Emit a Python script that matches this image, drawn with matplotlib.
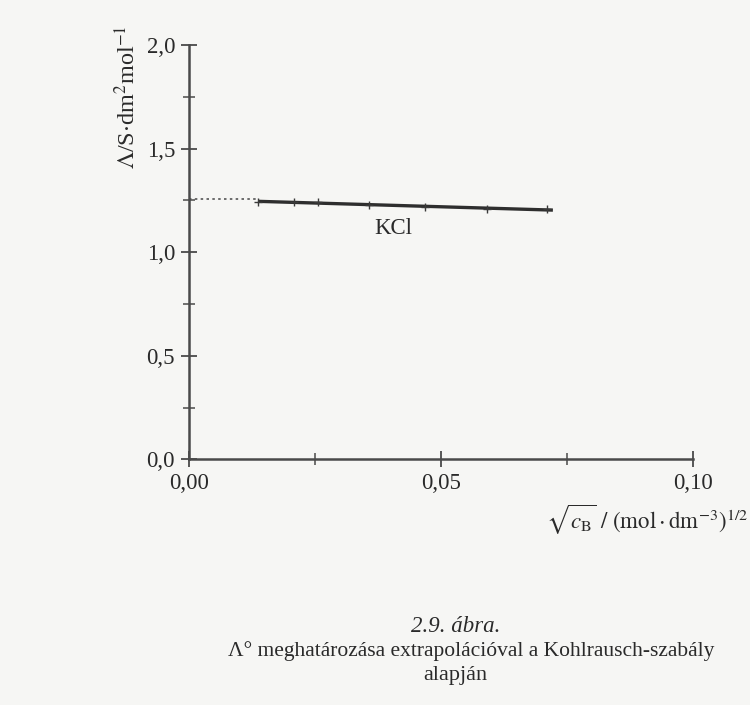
import numpy as np
import matplotlib
matplotlib.use("Agg")
import matplotlib.pyplot as plt

plt.rcParams['font.family'] = ['Liberation Serif', 'DejaVu Serif']
plt.rcParams['mathtext.fontset'] = 'stix'

# measured points, sqrt(c) vs molar conductivity (KCl)
sqrt_c = [0.0137, 0.0208, 0.0256, 0.0357, 0.0468, 0.0591, 0.0710]
lam = [1.243, 1.242, 1.241, 1.230, 1.219, 1.210, 1.207]
lam0 = 1.256  # extrapolated limiting value
x_ticks = [0.00, 0.05, 0.10]
x_ticklabels = ["0,00", "0,05", "0,10"]
y_ticks = [0.0, 0.5, 1.0, 1.5, 2.0]
y_ticklabels = ["0,0", "0,5", "1,0", "1,5", "2,0"]

ink = '#3a3a3a'

fig = plt.figure(figsize=(7.5, 7.05), dpi=100)
fig.patch.set_facecolor('#f6f6f4')
ax = fig.add_axes([0.252, 0.3485, 0.672, 0.5875])
ax.set_facecolor('none')

# straight-line fit through the points, extrapolated to zero
k, b = np.polyfit(sqrt_c, lam, 1)
xs = np.array([sqrt_c[0], sqrt_c[-1] + 0.0012])
ax.plot(xs, k * xs + b, color='#2e2e2e', lw=2.4, solid_capstyle='butt')
ax.plot([0, sqrt_c[0]], [lam0, lam0], color='#555555', lw=1.2, ls=(0, (1.5, 2)))
ax.plot(sqrt_c, lam, ls='none', marker='+', ms=6, mew=1.0, color=ink)

ax.set_xlim(0, 0.10)
ax.set_ylim(0, 2.0)
for s in ['top', 'right']:
    ax.spines[s].set_visible(False)
for s in ['left', 'bottom']:
    ax.spines[s].set_color('#4a4a4a')
    ax.spines[s].set_linewidth(1.8)

ax.set_xticks(x_ticks)
ax.set_xticklabels(x_ticklabels)
ax.set_yticks(y_ticks)
ax.set_yticklabels(y_ticklabels)
ax.set_xticks([0.025, 0.075], minor=True)
ax.set_yticks([0.25, 0.75, 1.25, 1.75], minor=True)
ax.tick_params(axis='both', which='major', direction='inout', length=12, width=1.3,
               colors='#4a4a4a', labelcolor='#2a2a2a', labelsize=16.5)
ax.tick_params(axis='both', which='minor', direction='inout', length=8, width=1.1,
               colors='#4a4a4a')
ax.tick_params(axis='y', pad=4)
ax.tick_params(axis='x', pad=4)

ax.text(0.0405, 1.115, "KCl", fontsize=16.5, color='#2a2a2a', ha='center', va='center')

fig.text(0.170, 0.862, r"$\Lambda$/S$\cdot$dm$^2$mol$^{-1}$", rotation=90, fontsize=17.5,
         color='#2a2a2a', ha='center', va='center')
fig.text(0.998, 0.262, r"$\sqrt{c_{\mathrm{B}}}\ /\ (\mathrm{mol}\cdot\mathrm{dm}^{-3})^{1/2}$",
         fontsize=16.5, color='#2a2a2a', ha='right', va='center')

fig.text(0.608, 0.111, "2.9. ábra.", fontsize=16.5, style='italic', color='#2a2a2a',
         ha='center', va='center')
fig.text(0.628, 0.077, "Λ° meghatározása extrapolációval a Kohlrausch-szabály",
         fontsize=15.5, color='#2a2a2a', ha='center', va='center')
fig.text(0.607, 0.042, "alapján", fontsize=16, color='#2a2a2a', ha='center', va='center')

fig.savefig("out.png", dpi=100, facecolor=fig.get_facecolor())
